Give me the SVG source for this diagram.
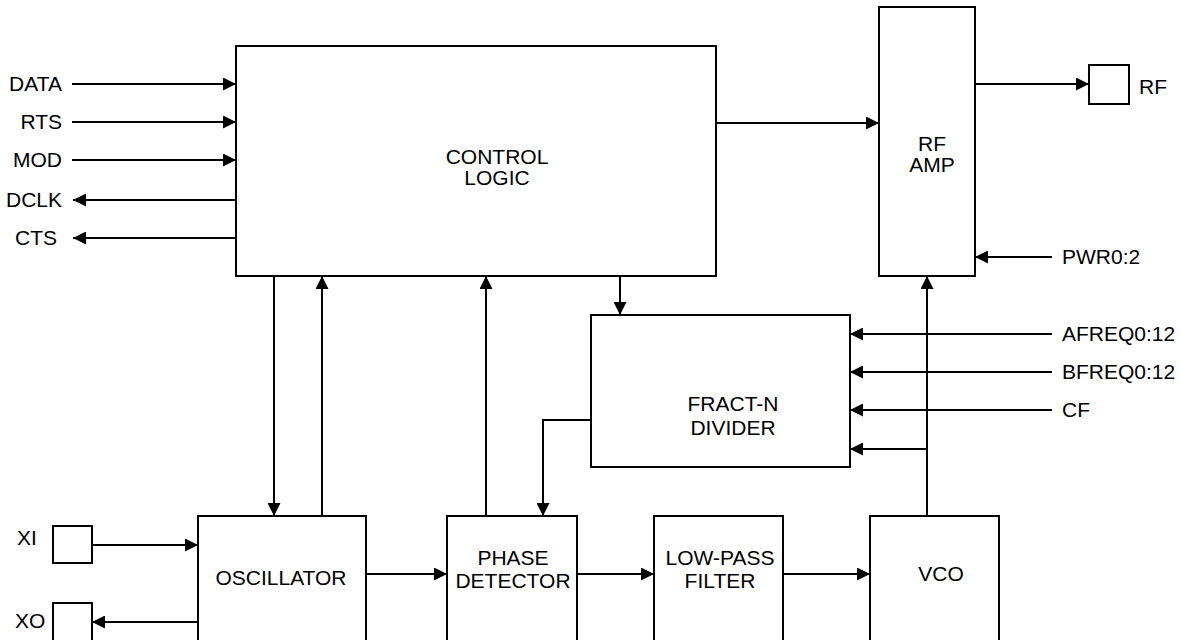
<svg xmlns="http://www.w3.org/2000/svg" width="1180" height="640" viewBox="0 0 1180 640">
<style>
  .box { fill: #fff; stroke: #000; stroke-width: 2; }
  .pin { fill: #fff; stroke: #000; stroke-width: 2; }
  .wire { fill: none; stroke: #000; stroke-width: 2; }
  .arr { marker-end: url(#ah); }
  text { font-family: "Liberation Sans", Arial, sans-serif; font-size: 21px; fill: #000; }
  .c { text-anchor: middle; }
  .e { text-anchor: end; }
</style>
<defs>
  <marker id="ah" markerUnits="userSpaceOnUse" markerWidth="13" markerHeight="13" refX="13" refY="6.5" orient="auto">
    <path d="M0,0 L13,6.5 L0,13 z" fill="#000"/>
  </marker>
</defs>
<rect width="1180" height="640" fill="#fff"/>

<g id="connectors">
  <line class="wire arr" x1="72" y1="84" x2="236" y2="84"/>
  <line class="wire arr" x1="72" y1="122" x2="236" y2="122"/>
  <line class="wire arr" x1="72" y1="160" x2="236" y2="160"/>
  <line class="wire arr" x1="236" y1="200" x2="73" y2="200"/>
  <line class="wire arr" x1="236" y1="238" x2="73" y2="238"/>
  <line class="wire arr" x1="716" y1="123" x2="879" y2="123"/>
  <line class="wire arr" x1="975" y1="84" x2="1089" y2="84"/>
  <line class="wire arr" x1="1052" y1="257" x2="975" y2="257"/>
  <line class="wire arr" x1="620" y1="276" x2="620" y2="315"/>
  <line class="wire arr" x1="274" y1="276" x2="274" y2="516"/>
  <line class="wire arr" x1="322" y1="516" x2="322" y2="276"/>
  <line class="wire arr" x1="486" y1="516" x2="486" y2="276"/>
  <polyline class="wire arr" points="591,420 543,420 543,516"/>
  <line class="wire arr" x1="927" y1="516" x2="927" y2="276"/>
  <line class="wire arr" x1="927" y1="449" x2="850" y2="449"/>
  <line class="wire arr" x1="1052" y1="334" x2="850" y2="334"/>
  <line class="wire arr" x1="1052" y1="372" x2="850" y2="372"/>
  <line class="wire arr" x1="1052" y1="410" x2="850" y2="410"/>
  <line class="wire arr" x1="92" y1="545" x2="198" y2="545"/>
  <line class="wire arr" x1="198" y1="622" x2="92" y2="622"/>
  <line class="wire arr" x1="366" y1="574" x2="447" y2="574"/>
  <line class="wire arr" x1="577" y1="574" x2="654" y2="574"/>
  <line class="wire arr" x1="783" y1="574" x2="870" y2="574"/>
</g>

<g id="control-logic">
  <rect class="box" x="236" y="46" width="480" height="230"/>
  <text class="c" x="497" y="164">CONTROL</text>
  <text class="c" x="497" y="185">LOGIC</text>
</g>

<g id="rf-amp">
  <rect class="box" x="879" y="7" width="96" height="269"/>
  <text class="c" x="932" y="151">RF</text>
  <text class="c" x="932" y="172">AMP</text>
</g>

<g id="rf-pin">
  <rect class="pin" x="1089" y="65" width="40" height="39"/>
  <text x="1139" y="94">RF</text>
</g>

<g id="fract-n-divider">
  <rect class="box" x="591" y="315" width="259" height="152"/>
  <text class="c" x="733" y="411">FRACT-N</text>
  <text class="c" x="733" y="435">DIVIDER</text>
</g>

<g id="oscillator">
  <rect class="box" x="198" y="516" width="168" height="150"/>
  <text class="c" x="281" y="585">OSCILLATOR</text>
</g>

<g id="phase-detector">
  <rect class="box" x="447" y="516" width="130" height="150"/>
  <text class="c" x="513" y="565">PHASE</text>
  <text class="c" x="513" y="588">DETECTOR</text>
</g>

<g id="low-pass-filter">
  <rect class="box" x="654" y="516" width="129" height="150"/>
  <text class="c" x="720" y="565">LOW-PASS</text>
  <text class="c" x="720" y="588">FILTER</text>
</g>

<g id="vco">
  <rect class="box" x="870" y="516" width="129" height="150"/>
  <text class="c" x="941" y="581">VCO</text>
</g>

<g id="xi-pin">
  <rect class="pin" x="53" y="526" width="39" height="37"/>
  <text x="17" y="545">XI</text>
</g>

<g id="xo-pin">
  <rect class="pin" x="53" y="603" width="39" height="50"/>
  <text x="15" y="628">XO</text>
</g>

<g id="labels">
  <text class="e" x="62" y="91">DATA</text>
  <text class="e" x="62" y="129">RTS</text>
  <text class="e" x="62" y="167">MOD</text>
  <text class="e" x="62" y="207">DCLK</text>
  <text class="e" x="57" y="245">CTS</text>
  <text x="1062" y="264">PWR0:2</text>
  <text x="1062" y="341">AFREQ0:12</text>
  <text x="1062" y="379">BFREQ0:12</text>
  <text x="1062" y="417">CF</text>
</g>
</svg>
